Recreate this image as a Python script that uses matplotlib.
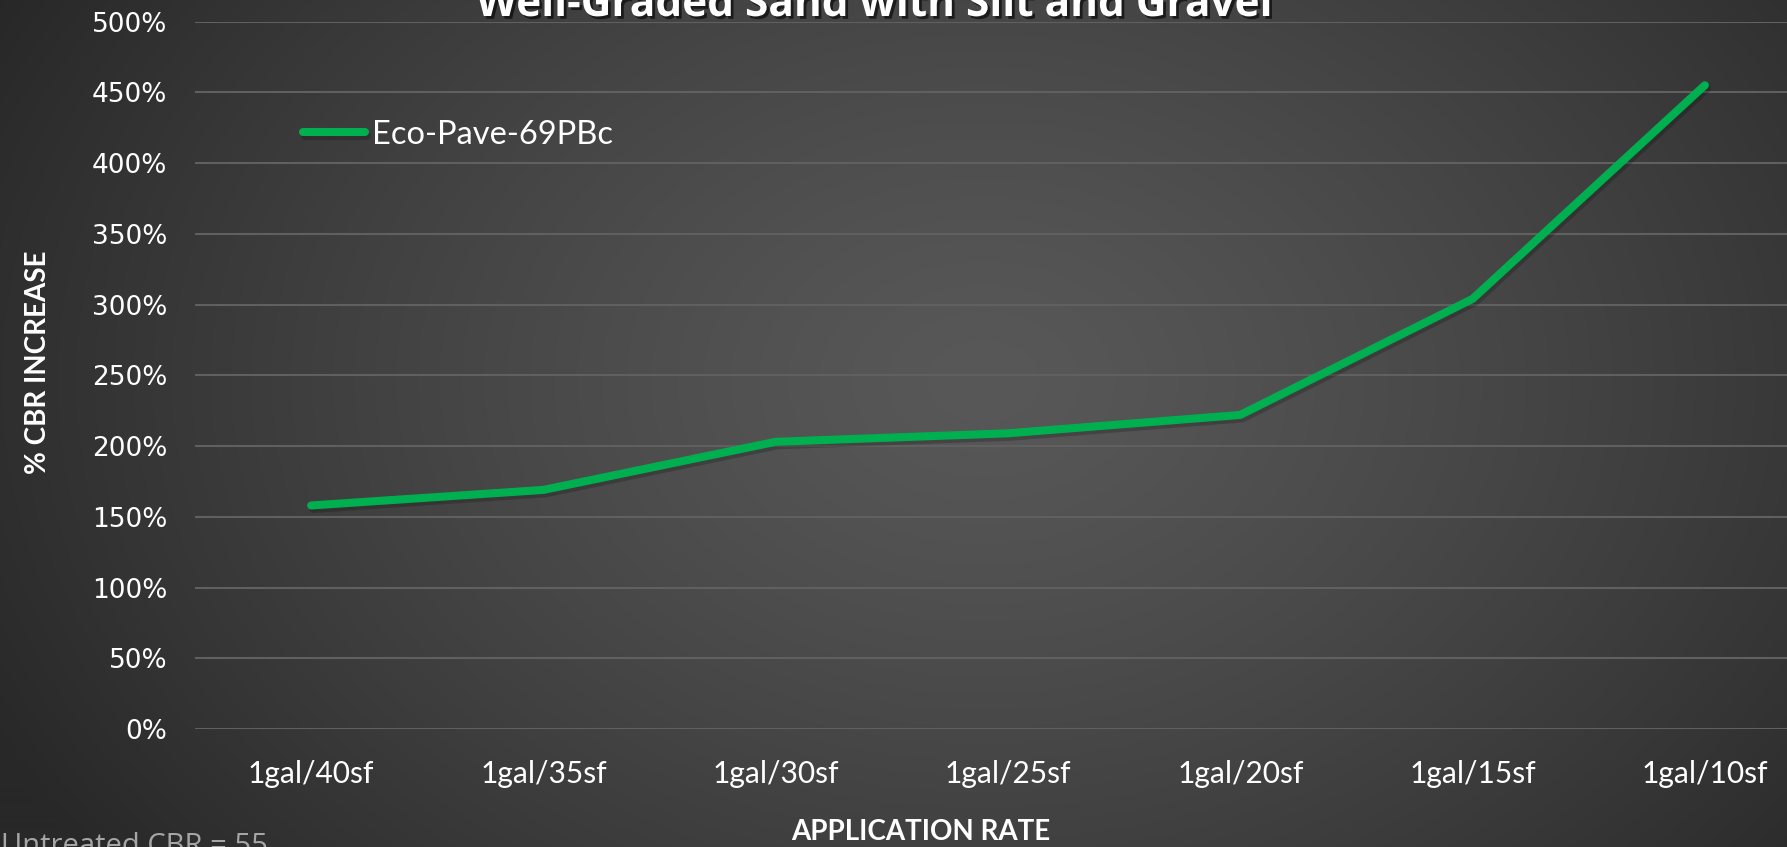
import numpy as np
import matplotlib
matplotlib.use("Agg")
import matplotlib.pyplot as plt
import matplotlib.patheffects as pe
from matplotlib.ticker import MultipleLocator, FuncFormatter

categories = ["1gal/40sf", "1gal/35sf", "1gal/30sf", "1gal/25sf", "1gal/20sf", "1gal/15sf", "1gal/10sf"]
cbr_increase = [1.58, 1.69, 2.03, 2.09, 2.22, 3.04, 4.55]
series_name = "Eco-Pave-69PBc"
title = "Well-Graded Sand with Silt and Gravel"
xlabel = "APPLICATION RATE"
ylabel = "% CBR INCREASE"
note = "Untreated CBR = 55"

W, H = 1787, 847
fig = plt.figure(figsize=(W / 100, H / 100), dpi=100)

# radial gradient background
bg = fig.add_axes([0, 0, 1, 1], zorder=-10)
yy, xx = np.mgrid[0:H, 0:W]
cx, cy = W * 0.55, H * 0.45
r = np.sqrt(((xx - cx) / (W * 0.62)) ** 2 + ((yy - cy) / (H * 0.95)) ** 2)
r = np.clip(r, 0, 1)
inner, outer = 0x58, 0x28
val = (inner + (outer - inner) * r ** 1.3) / 255.0
img = np.dstack([val, val, val])
bg.imshow(img, aspect="auto", extent=[0, 1, 0, 1], origin="upper")
bg.set_axis_off()

left = 195 / W
right = 1821 / W
bottom = 1 - 729 / H
top = 1 - 21.6 / H
ax = fig.add_axes([left, bottom, right - left, top - bottom])
ax.patch.set_alpha(0)

x = np.arange(len(categories))
ax.plot(x, cbr_increase, color="#00B050", lw=5.8, solid_capstyle="round",
        solid_joinstyle="round", label=series_name, zorder=3,
        path_effects=[pe.SimpleLineShadow(offset=(1.5, -2.5), shadow_color="black", alpha=0.2),
                      pe.Normal()])

ax.set_xlim(-0.5, len(categories) - 0.5)
ax.set_ylim(0, 5)
ax.yaxis.set_major_locator(MultipleLocator(0.5))
ax.yaxis.set_major_formatter(FuncFormatter(lambda v, p: f"{v*100:.0f}%"))
ax.set_xticks(x)
ax.set_xticklabels(categories)
ax.grid(axis="y", color="#606060", lw=1.5, zorder=1)
ax.set_axisbelow(True)
for s in ax.spines.values():
    s.set_visible(False)
ax.tick_params(axis="both", length=0)
ax.tick_params(axis="x", pad=22, labelsize=21.5, labelcolor="white")
ax.tick_params(axis="y", pad=20, labelsize=19, labelcolor="white")
for t in ax.get_xticklabels():
    t.set_fontfamily("Lato")
for t in ax.get_yticklabels():
    t.set_fontfamily("DejaVu Sans")

leg = ax.legend(loc="center left",
                bbox_to_anchor=((303 - 195) / (1821 - 195), 1 - (134.5 - 21.6) / (729 - 21.6)),
                frameon=False, handlelength=1.9, handletextpad=0.2, borderaxespad=0,
                borderpad=0, prop={"family": "Lato", "size": 23.5})
for t in leg.get_texts():
    t.set_color("white")

fig.text(873.6 / W, 1 - 16 / H, title, ha="center", va="baseline", color="white",
         fontsize=30.5, fontweight="bold", family="Open Sans",
         path_effects=[pe.withSimplePatchShadow(offset=(2, -2), shadow_rgbFace="black", alpha=0.6)])
fig.text(921 / W, 1 - 832 / H, xlabel, ha="center", va="center", color="white",
         fontsize=20, fontweight="bold", family="Lato")
fig.text(38 / W, 1 - 362 / H, ylabel, ha="center", va="center", rotation=90, color="white",
         fontsize=20, fontweight="bold", family="Lato")
fig.text(1 / W, 1 - 832 / H, note, ha="left", va="top", color="#a6a6a6",
         fontsize=21, family="Open Sans")

fig.savefig("out.png", dpi=100)
